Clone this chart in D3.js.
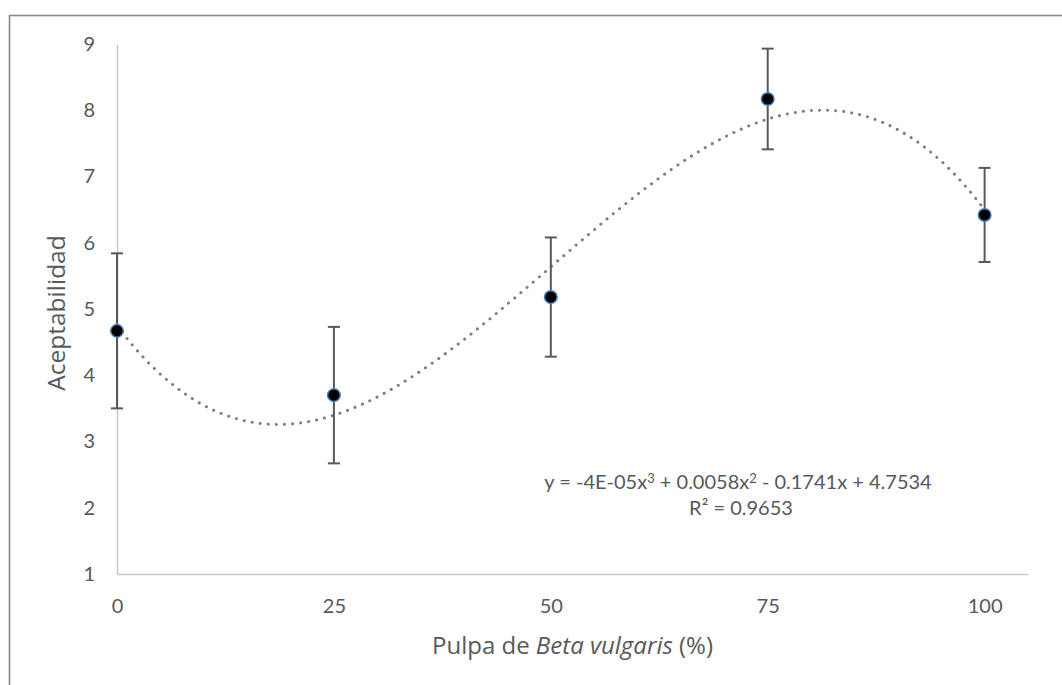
<!DOCTYPE html>
<html>
<head>
<meta charset="utf-8">
<script src="https://cdn.jsdelivr.net/npm/d3@7"></script>
<style>
  html, body { margin: 0; padding: 0; background: #fff; }
  svg { display: block; }
  text { font-family: Lato, "Open Sans", sans-serif; fill: #595959; }
</style>
</head>
<body>
<svg id="chart" width="1062" height="685"></svg>
<script>
// ---- data ----
const xValues = [0, 25, 50, 75, 100];
const yValues = [4.67, 3.70, 5.18, 8.17, 6.42];
const errValues = [1.17, 1.03, 0.90, 0.76, 0.71];
const xTicks = [0, 25, 50, 75, 100];
const yTicks = [1, 2, 3, 4, 5, 6, 7, 8, 9];
const equationText = ["y = -4E-05x", "3", " + 0.0058x", "2", " - 0.1741x + 4.7534"];
const r2Text = "R² = 0.9653";
const xTitle = ["Pulpa de ", "Beta vulgaris", " (%)"];
const yTitle = "Aceptabilidad";

// ---- layout ----
const svg = d3.select("#chart");
const pLeft = 117, pRight = 1028, pTop = 44, pBottom = 574;

const x = d3.scaleLinear().domain([0, 105]).range([pLeft, pRight]);
const y = d3.scaleLinear().domain([1, 9]).range([pBottom, pTop]);

// outer border
svg.append("rect").attr("x", 9.5).attr("y", 15.5).attr("width", 1100).attr("height", 700)
  .attr("fill", "none").attr("stroke", "#8a8a8a").attr("stroke-width", 1.6);

// axes
const xAxis = svg.append("g").attr("transform", `translate(0,${pBottom})`)
  .call(d3.axisBottom(x).tickValues(xTicks).tickSize(0).tickPadding(28));
const yAxis = svg.append("g").attr("transform", `translate(${pLeft},0)`)
  .call(d3.axisLeft(y).tickValues(yTicks).tickSize(0).tickPadding(22));
[xAxis, yAxis].forEach(g => {
  g.select(".domain").attr("stroke", "#c8c8c8").attr("stroke-width", 1.5);
  g.selectAll("text").attr("font-size", 20).attr("fill", "#595959")
    .style("font-family", "Lato, 'Open Sans', sans-serif");
});
xAxis.selectAll("text").attr("dy", "0.55em");

// least-squares cubic trendline from the data
function polyfit(xs, ys, deg) {
  const n = deg + 1;
  const A = Array.from({length: n}, () => new Array(n + 1).fill(0));
  for (let i = 0; i < xs.length; i++) {
    for (let r = 0; r < n; r++) {
      for (let c = 0; c < n; c++) A[r][c] += Math.pow(xs[i], r + c);
      A[r][n] += ys[i] * Math.pow(xs[i], r);
    }
  }
  for (let p = 0; p < n; p++) {
    let m = p;
    for (let r = p + 1; r < n; r++) if (Math.abs(A[r][p]) > Math.abs(A[m][p])) m = r;
    [A[p], A[m]] = [A[m], A[p]];
    for (let r = 0; r < n; r++) {
      if (r === p) continue;
      const f = A[r][p] / A[p][p];
      for (let c = p; c <= n; c++) A[r][c] -= f * A[p][c];
    }
  }
  return A.map((row, i) => row[n] / row[i]);
}
const coef = polyfit(xValues, yValues, 3);
const fx = v => coef.reduce((s, c, i) => s + c * Math.pow(v, i), 0);
const trendX = d3.range(0, 100.01, 0.5);
svg.append("path")
  .datum(trendX)
  .attr("d", d3.line().x(d => x(d)).y(d => y(fx(d))))
  .attr("fill", "none").attr("stroke", "#7f7f7f").attr("stroke-width", 3)
  .attr("stroke-linecap", "round").attr("stroke-dasharray", "0.1 8");

// error bars
const data = xValues.map((v, i) => ({x: v, y: yValues[i], e: errValues[i]}));
const eb = svg.append("g").attr("stroke", "#595959").attr("stroke-width", 2);
data.forEach(d => {
  eb.append("line").attr("x1", x(d.x)).attr("x2", x(d.x))
    .attr("y1", y(d.y + d.e)).attr("y2", y(d.y - d.e));
  [d.y + d.e, d.y - d.e].forEach(v => {
    eb.append("line").attr("x1", x(d.x) - 6).attr("x2", x(d.x) + 6)
      .attr("y1", y(v)).attr("y2", y(v));
  });
});

// markers
svg.append("g").selectAll("circle").data(data).join("circle")
  .attr("cx", d => x(d.x)).attr("cy", d => y(d.y)).attr("r", 6.3)
  .attr("fill", "#000").attr("stroke", "#4a7ebb").attr("stroke-width", 1.5);

// equation
const eq = svg.append("text").attr("x", 738).attr("y", 489).attr("text-anchor", "middle")
  .attr("font-size", 20);
equationText.forEach((t, i) => {
  const sup = (i === 1 || i === 3);
  eq.append("tspan").text(t)
    .attr("font-size", sup ? 13 : 20)
    .attr("baseline-shift", sup ? "6" : null);
});
svg.append("text").attr("x", 741).attr("y", 515).attr("text-anchor", "middle")
  .attr("font-size", 20).text(r2Text);

// axis titles
const xt = svg.append("text").attr("x", (pLeft + pRight) / 2).attr("y", 654)
  .attr("text-anchor", "middle").attr("font-size", 24)
  .style("font-family", "'Open Sans', sans-serif");
xTitle.forEach((t, i) => xt.append("tspan").text(t).attr("font-style", i === 1 ? "italic" : null));

svg.append("text").attr("transform", `translate(65,${(pTop + pBottom) / 2 + 4}) rotate(-90)`)
  .attr("text-anchor", "middle").attr("font-size", 24.5)
  .style("font-family", "'Open Sans', sans-serif").text(yTitle);
</script>
</body>
</html>
